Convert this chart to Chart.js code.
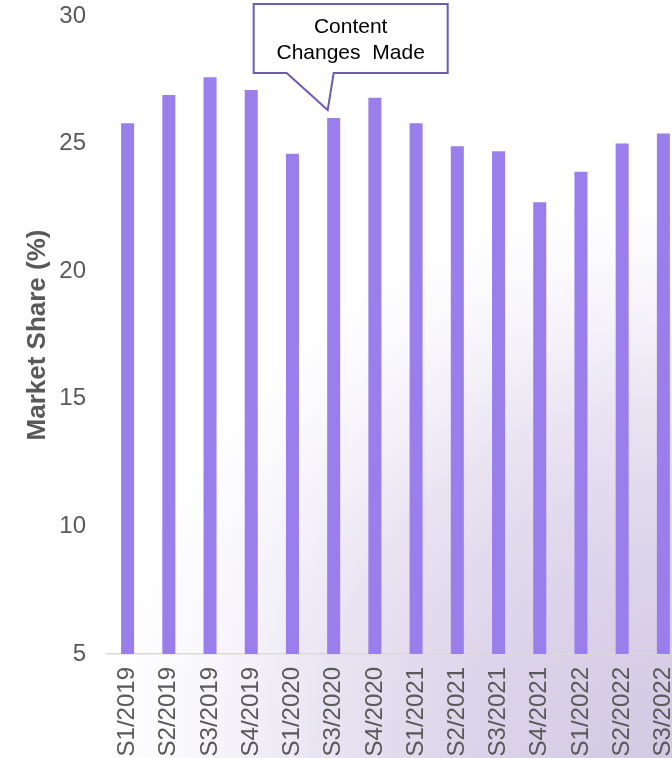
<!DOCTYPE html>
<html>
<head>
<meta charset="utf-8">
<title>Market Share by Period</title>
<script src="https://cdn.jsdelivr.net/npm/chart.js@4.4.1/dist/chart.umd.min.js"></script>
<style>
  html, body {
    margin: 0;
    padding: 0;
    width: 672px;
    height: 758px;
    overflow: hidden;
  }
  body {
    background: radial-gradient(circle at 672px 758px,
      #d2c9e3 0px, #dcd4ea 200px, #e8e2f1 340px, #f6f4fa 450px, #ffffff 560px);
  }
  #wrap {
    position: absolute;
    left: 0;
    top: 0;
  }
</style>
</head>
<body>
<div id="wrap"><canvas id="chart" width="684" height="800"></canvas></div>
<script>
// Periods shown along the x axis
const categories = [
  'S1/2019', 'S2/2019', 'S3/2019', 'S4/2019',
  'S1/2020', 'S3/2020', 'S4/2020',
  'S1/2021', 'S2/2021', 'S3/2021', 'S4/2021',
  'S1/2022', 'S2/2022', 'S3/2022'
];

// Market share per period, in percent
const marketShare = [25.8, 26.9, 27.6, 27.1, 24.6, 26.0, 26.8, 25.8, 24.9, 24.7, 22.7, 23.9, 25.0, 25.4];

// Value axis range and ticks
const yTicks = [5, 10, 15, 20, 25, 30];

// Callout text and the period it points at
const calloutCategory = 'S3/2020';
const calloutLines = ['Content', 'Changes Made'];

const FONT = "'Liberation Sans', Arial, Helvetica, sans-serif";
const TEXT_GREY = '#595959';

// Speech-bubble callout pointing down at one bar
const calloutPlugin = {
  id: 'callout',
  afterDatasetsDraw(chart) {
    const idx = categories.indexOf(calloutCategory);
    if (idx < 0) return;
    const bar = chart.getDatasetMeta(0).data[idx];
    const ctx = chart.ctx;
    const tipX = bar.x - 6;
    const tipY = bar.y - 8;
    const left = tipX - 74;
    const right = tipX + 120;
    const top = chart.chartArea.top - 12;
    const bottom = top + 69;
    const baseL = tipX - 41;
    const baseR = tipX + 6;

    ctx.save();
    ctx.beginPath();
    ctx.moveTo(left, top);
    ctx.lineTo(right, top);
    ctx.lineTo(right, bottom);
    ctx.lineTo(baseR, bottom);
    ctx.lineTo(tipX, tipY);
    ctx.lineTo(baseL, bottom);
    ctx.lineTo(left, bottom);
    ctx.closePath();
    ctx.fillStyle = '#ffffff';
    ctx.fill();
    ctx.lineWidth = 2;
    ctx.lineJoin = 'miter';
    ctx.strokeStyle = '#6e5bb0';
    ctx.stroke();

    ctx.fillStyle = '#000000';
    ctx.font = '21px ' + FONT;
    ctx.textAlign = 'center';
    ctx.textBaseline = 'middle';
    if ('wordSpacing' in ctx) ctx.wordSpacing = '6px';
    const cx = (left + right) / 2;
    ctx.fillText(calloutLines[0], cx, top + 23);
    ctx.fillText(calloutLines[1], cx, top + 49);
    ctx.restore();
  }
};

new Chart(document.getElementById('chart'), {
  type: 'bar',
  data: {
    labels: categories,
    datasets: [{
      label: 'Market Share (%)',
      data: marketShare,
      backgroundColor: '#9a7fec',
      borderWidth: 0,
      categoryPercentage: 1,
      barPercentage: 0.316
    }]
  },
  options: {
    responsive: false,
    animation: false,
    devicePixelRatio: 1,
    layout: { padding: { top: 16, left: 0, right: 0, bottom: 0 } },
    plugins: {
      legend: { display: false },
      tooltip: { enabled: false }
    },
    scales: {
      x: {
        grid: { display: false, drawTicks: false },
        border: { display: true, color: '#d9d9d9', width: 1.5 },
        ticks: {
          autoSkip: false,
          minRotation: 90,
          maxRotation: 90,
          padding: 13,
          color: TEXT_GREY,
          font: { family: FONT, size: 24 }
        },
        afterFit(scale) {
          scale.height = 146;
          scale.paddingLeft = 0;
          scale.paddingRight = 0;
        }
      },
      y: {
        min: yTicks[0],
        max: yTicks[yTicks.length - 1],
        grid: { display: false, drawTicks: false },
        border: { display: false },
        afterBuildTicks(scale) { scale.ticks = yTicks.map(v => ({ value: v })); },
        ticks: {
          padding: 21,
          color: TEXT_GREY,
          font: { family: FONT, size: 24 }
        },
        title: {
          display: true,
          text: 'Market Share (%)',
          color: TEXT_GREY,
          padding: { top: 22, bottom: 0 },
          font: { family: FONT, size: 26, weight: 'bold' }
        },
        afterFit(scale) {
          scale.width = 107;
          scale.paddingTop = 0;
          scale.paddingBottom = 0;
        }
      }
    }
  },
  plugins: [calloutPlugin]
});
</script>
</body>
</html>
